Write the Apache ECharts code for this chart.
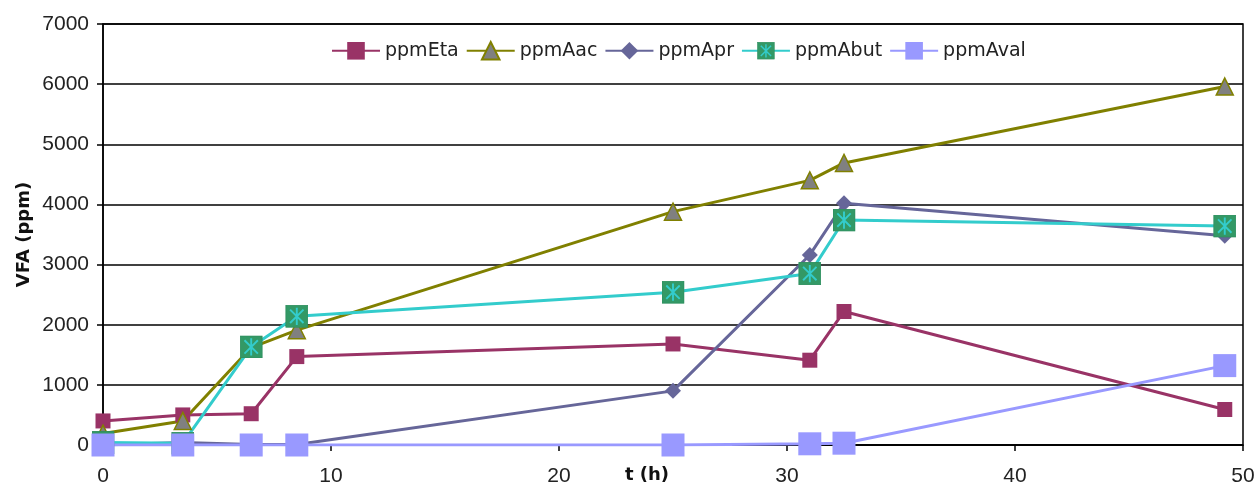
<!DOCTYPE html>
<html>
<head>
<meta charset="utf-8">
<script src="https://cdn.jsdelivr.net/npm/echarts@6/dist/echarts.min.js"></script>
<style>
html,body{margin:0;padding:0;background:#fff;}
#chart{width:1257px;height:489px;}
</style>
</head>
<body>
<div id="chart"></div>
<script>
var hours = [0, 3.5, 6.5, 8.5, 25, 31, 32.5, 49.2];
var ppmEta = [400, 500, 520, 1470, 1680, 1410, 2220, 590];
var ppmAac = [190, 400, 1620, 1910, 3880, 4400, 4690, 5960];
var ppmApr = [0, 40, 10, 10, 900, 3160, 4020, 3480];
var ppmAbut = [40, 30, 1630, 2140, 2540, 2850, 3740, 3640];
var ppmAval = [0, 0, 0, 0, 0, 20, 30, 1320];
var seriesNames = ['ppmEta', 'ppmAac', 'ppmApr', 'ppmAbut', 'ppmAval'];
var yTicks = [0, 1000, 2000, 3000, 4000, 5000, 6000, 7000];
var xTicks = [0, 10, 20, 30, 40, 50];

function pairs(ys) { return hours.map(function (h, i) { return [h, ys[i]]; }); }

var butSvg = "<svg xmlns='http://www.w3.org/2000/svg' width='24' height='24' viewBox='0 0 24 24'>" +
  "<rect x='0.5' y='0.5' width='23' height='23' fill='#339966' stroke='#2f8f5f'/>" +
  "<path d='M5 5L19 19M19 5L5 19M12 3V21' stroke='#33CCCC' stroke-width='2' fill='none'/></svg>";
var butSymbol = 'image://data:image/svg+xml;charset=utf-8,' + encodeURIComponent(butSvg);

var tickFont = "'Liberation Sans', Arial, sans-serif";
var chart = echarts.init(document.getElementById('chart'), null, {renderer: 'canvas'});
var option = {
  animation: false,
  backgroundColor: '#ffffff',
  grid: {left: 103, right: 14, top: 24, bottom: 44, show: true, borderColor: '#000', borderWidth: 1.5,
    backgroundColor: 'transparent', containLabel: false, outerBoundsMode: 'none'},
  legend: {
    data: seriesNames,
    left: 326, top: 36,
    itemWidth: 48, itemHeight: 22, itemGap: 7,
    textStyle: {fontFamily: 'DejaVu Sans', fontSize: 19, color: '#222'}
  },
  xAxis: {
    type: 'value', min: xTicks[0], max: xTicks[xTicks.length - 1], interval: 10,
    name: 't (h)', nameLocation: 'middle', nameGap: 21, nameMoveOverlap: false,
    nameTextStyle: {fontFamily: 'DejaVu Sans', fontWeight: 'bold', fontSize: 18, color: '#111', padding: [0, 52, 0, 0]},
    axisLine: {lineStyle: {color: '#000', width: 1.5}},
    axisTick: {show: true, inside: false, length: 6, lineStyle: {color: '#000', width: 1.5}},
    axisLabel: {margin: 21, fontFamily: tickFont, fontSize: 21, color: '#222',
      formatter: function (v) { return String(v); }},
    splitLine: {show: false}
  },
  yAxis: {
    type: 'value', min: yTicks[0], max: yTicks[yTicks.length - 1], interval: 1000,
    name: 'VFA (ppm)', nameLocation: 'middle', nameGap: 70, nameRotate: 90, nameMoveOverlap: false,
    nameTextStyle: {fontFamily: 'DejaVu Sans', fontWeight: 'bold', fontSize: 18, color: '#111'},
    axisLine: {show: true, lineStyle: {color: '#000', width: 1.5}},
    axisTick: {show: true, inside: false, length: 6, lineStyle: {color: '#000', width: 1.5}},
    axisLabel: {margin: 14, fontFamily: tickFont, fontSize: 21, color: '#222',
      formatter: function (v) { return String(v); }},
    splitLine: {show: true, lineStyle: {color: '#000', width: 1.5}}
  },
  series: [
    {name: 'ppmEta', type: 'line', data: pairs(ppmEta), symbol: 'rect', symbolSize: 15,
      lineStyle: {color: '#993366', width: 3}, itemStyle: {color: '#993366'}},
    {name: 'ppmAac', type: 'line', data: pairs(ppmAac), symbol: 'triangle', symbolSize: 17,
      lineStyle: {color: '#808000', width: 3}, itemStyle: {color: '#808080', borderColor: '#808000', borderWidth: 1.5}},
    {name: 'ppmApr', type: 'line', data: pairs(ppmApr), symbol: 'diamond', symbolSize: 16,
      lineStyle: {color: '#666699', width: 3}, itemStyle: {color: '#666699'}},
    {name: 'ppmAbut', type: 'line', data: pairs(ppmAbut), symbol: butSymbol, symbolSize: 23,
      lineStyle: {color: '#33CCCC', width: 3}, itemStyle: {color: '#339966'}},
    {name: 'ppmAval', type: 'line', data: pairs(ppmAval), symbol: 'rect', symbolSize: 23,
      lineStyle: {color: '#9999FF', width: 3}, itemStyle: {color: '#9999FF'}}
  ]
};
chart.setOption(option);
</script>
</body>
</html>
